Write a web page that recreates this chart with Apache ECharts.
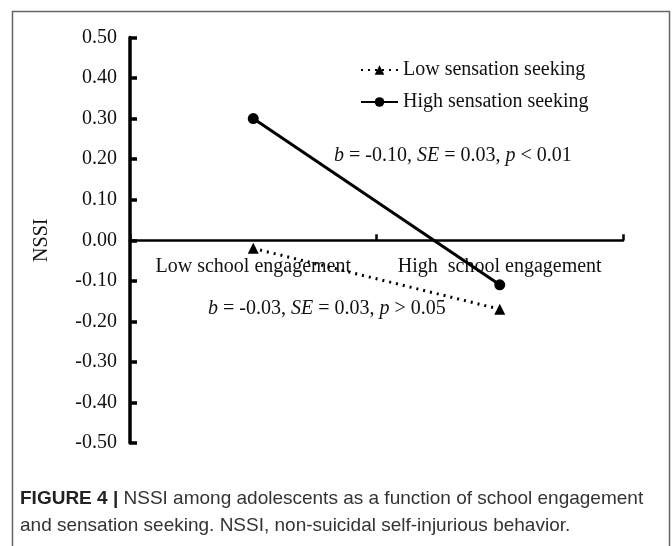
<!DOCTYPE html>
<html>
<head>
<meta charset="utf-8">
<script src="https://cdn.jsdelivr.net/npm/echarts@6/dist/echarts.min.js"></script>
<style>
	html, body { margin: 0; padding: 0; background: #fff; }
	#chart { width: 672px; height: 546px; }
</style>
</head>
<body>
<div id="chart"></div>
<script>
// data
var categories = [ 'Low school engagement', 'High  school engagement' ];
var lowSensation = [ -0.02, -0.17 ];
var highSensation = [ 0.30, -0.11 ];
var seriesNames = [ 'Low sensation seeking', 'High sensation seeking' ];
var yMin = -0.5, yMax = 0.5, yStep = 0.1;

var serif = '"Liberation Serif", "Times New Roman", serif';
var sans = '"Liberation Sans Narrow", "Liberation Sans", sans-serif';
var myChart = echarts.init(document.getElementById('chart'));

var option = {
	backgroundColor : '#fff',
	animation : false,
	grid : {
		left : 130,
		right : 49,
		top : 37.5,
		bottom : 103
	},
	legend : {
		orient : 'vertical',
		left : 355,
		top : 55,
		itemWidth : 37,
		itemHeight : 12,
		itemGap : 12,
		data : seriesNames,
		textStyle : {
			fontFamily : serif,
			fontSize : 20,
			color : '#111'
		}
	},
	xAxis : {
		type : 'category',
		data : categories,
		boundaryGap : true,
		axisLine : {
			onZero : true,
			lineStyle : { color : '#000', width : 2.5 }
		},
		axisTick : {
			show : true,
			inside : true,
			interval : 0,
			length : 6,
			lineStyle : { color : '#000', width : 2.5 }
		},
		axisLabel : {
			interval : 0,
			hideOverlap : false,
			margin : -186,
			fontFamily : serif,
			fontSize : 20,
			color : '#111'
		},
		splitLine : { show : false }
	},
	yAxis : {
		type : 'value',
		min : yMin,
		max : yMax,
		interval : yStep,
		name : 'NSSI',
		nameLocation : 'middle',
		nameGap : 78,
		nameRotate : 90,
		nameTextStyle : {
			fontFamily : serif,
			fontSize : 20,
			color : '#111'
		},
		axisLine : {
			show : true,
			lineStyle : { color : '#000', width : 3.5 }
		},
		axisTick : {
			show : true,
			inside : true,
			length : 7,
			lineStyle : { color : '#000', width : 3.5 }
		},
		axisLabel : {
			margin : 13,
			fontFamily : serif,
			fontSize : 20,
			color : '#111',
			formatter : function(v) {
				return v.toFixed(2);
			}
		},
		splitLine : { show : false }
	},
	series : [ {
		name : seriesNames[0],
		type : 'line',
		data : lowSensation,
		symbol : 'triangle',
		symbolSize : 11,
		color : '#000',
		lineStyle : { color : '#000', width : 3, type : [ 2, 5 ] },
		itemStyle : { color : '#000' }
	}, {
		name : seriesNames[1],
		type : 'line',
		data : highSensation,
		symbol : 'circle',
		symbolSize : 11,
		color : '#000',
		lineStyle : { color : '#000', width : 3 },
		itemStyle : { color : '#000' }
	} ],
	graphic : [ {
		type : 'rect',
		shape : { x : 12.5, y : 11.5, width : 657, height : 600 },
		style : { fill : 'none', stroke : '#666', lineWidth : 1.5 },
		silent : true
	}, {
		type : 'text',
		left : 334,
		top : 146,
		style : {
			text : '{i|b} = -0.10, {i|SE} = 0.03, {i|p} < 0.01',
			rich : {
				i : { fontStyle : 'italic', fontFamily : serif, fontSize : 20, fill : '#111' }
			},
			font : '20px ' + serif,
			fill : '#111'
		}
	}, {
		type : 'text',
		left : 208,
		top : 299,
		style : {
			text : '{i|b} = -0.03, {i|SE} = 0.03, {i|p} > 0.05',
			rich : {
				i : { fontStyle : 'italic', fontFamily : serif, fontSize : 20, fill : '#111' }
			},
			font : '20px ' + serif,
			fill : '#111'
		}
	}, {
		type : 'text',
		left : 20,
		top : 485,
		style : {
			text : '{b|FIGURE 4 |} NSSI among adolescents as a function of school engagement\nand sensation seeking. NSSI, non-suicidal self-injurious behavior.',
			rich : {
				b : { fontWeight : 'bold', fontFamily : sans, fontSize : 19, fill : '#222' }
			},
			font : '19px ' + sans,
			lineHeight : 27,
			fill : '#333'
		}
	} ]
};
myChart.setOption(option);
</script>
</body>
</html>
